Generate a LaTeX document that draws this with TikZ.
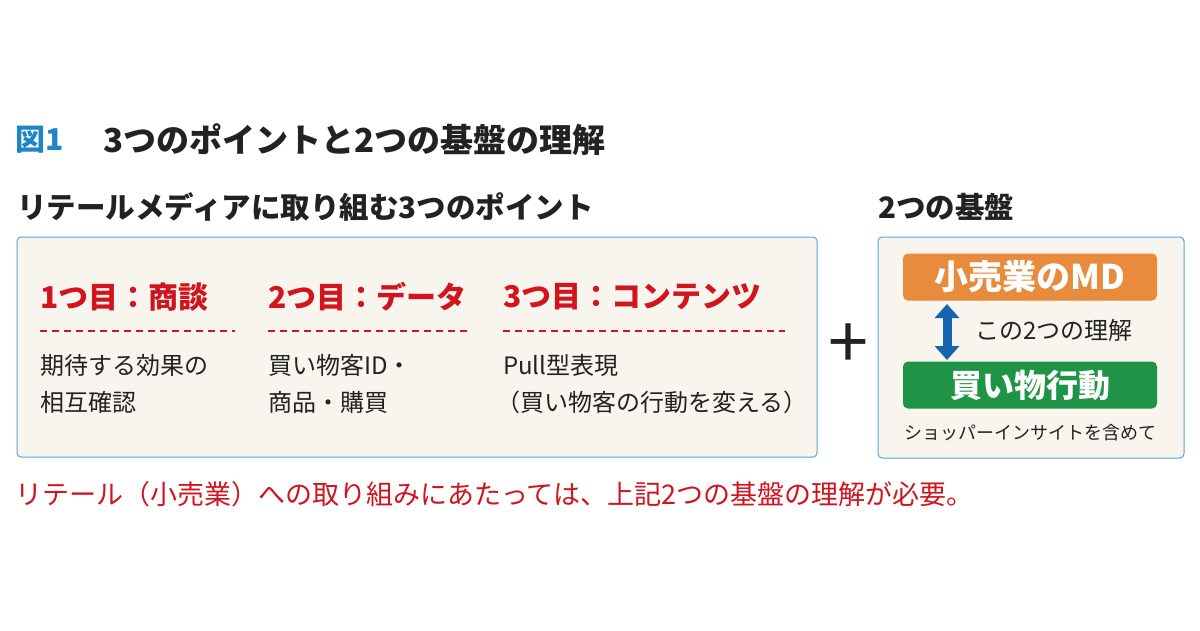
\documentclass[tikz,border=0pt]{standalone}
\usepackage{fontspec}
\setmainfont{Noto Sans CJK JP}
\usetikzlibrary{arrows.meta}
\definecolor{tblue}{HTML}{1E86C6}
\definecolor{tred}{HTML}{D2141E}
\definecolor{boxfill}{HTML}{F8F5EE}
\definecolor{boxline}{HTML}{5BA3D6}
\definecolor{orng}{HTML}{E88B3C}
\definecolor{grn}{HTML}{1F9447}
\definecolor{arr}{HTML}{1565B0}
\definecolor{txt}{HTML}{222222}
\begin{document}
\begin{tikzpicture}[x=1pt,y=-1pt,
  lbl/.style={anchor=west,inner sep=0pt,text=txt},
  head/.style={lbl,text=tred,font=\fontsize{30}{30}\selectfont\bfseries},
  body/.style={lbl,font=\fontsize{24}{24}\selectfont},
  panel/.style={draw=boxline,line width=1pt,fill=boxfill,rounded corners=4pt},
  pill/.style={rounded corners=5pt,minimum width=254pt,minimum height=47pt,text=white,inner sep=0pt},
  dsh/.style={tred,line width=2pt,dash pattern=on 7pt off 5pt}]
\useasboundingbox (0,0) rectangle (1200,630);
\fill[white] (0,0) rectangle (1200,630);
\node[lbl,text=tblue,font=\fontsize{30}{30}\selectfont\bfseries] (fig) at (15,140) {図1};
\node[lbl,font=\fontsize{33}{33}\selectfont\bfseries] (title) at (103,140) {3つのポイントと2つの基盤の理解};
\node[lbl,font=\fontsize{29.5}{29.5}\selectfont\bfseries] (sub1) at (17,207) {リテールメディアに取り組む3つのポイント};
\node[lbl,font=\fontsize{29.5}{29.5}\selectfont\bfseries] (sub2) at (878,207) {2つの基盤};
\draw[panel] (17,237) rectangle (817,457);
\draw[panel] (878,237) rectangle (1184,458);
\node[head] (h1) at (40,297) {1つ目：商談};
\node[head] (h2) at (268,297) {2つ目：データ};
\node[head] (h3) at (503,297) {3つ目：コンテンツ};
\coordinate (d1a) at (40,331); \coordinate (d1b) at (235,331);
\coordinate (d2a) at (268,331); \coordinate (d2b) at (468,331);
\coordinate (d3a) at (503,331); \coordinate (d3b) at (785,331);
\draw[dsh] (d1a) -- (d1b); \draw[dsh] (d2a) -- (d2b); \draw[dsh] (d3a) -- (d3b);
\node[body] (b1a) at (40,365) {期待する効果の};
\node[body] (b1b) at (40,402) {相互確認};
\node[body] (b2a) at (268,365) {買い物客ID・};
\node[body] (b2b) at (268,402) {商品・購買};
\node[body] (b3a) at (503,365) {Pull型表現};
\node[body] (b3b) at (496,402) {（買い物客の行動を変える）};
\node[text=txt,font=\fontsize{72}{72}\selectfont] (plus) at (848,346) {+};
\node[pill,fill=orng,font=\fontsize{34}{34}\selectfont\bfseries] (md) at (1030,277) {小売業のMD};
\node[pill,fill=grn,font=\fontsize{32}{32}\selectfont\bfseries] (kb) at (1030,385) {買い物行動};
\draw[arr,line width=9pt,{Triangle[width=24pt,length=14pt]}-{Triangle[width=24pt,length=14pt]}] (947,304) -- (947,360);
\node[lbl,font=\fontsize{24}{24}\selectfont] (rk) at (975,330) {この2つの理解};
\node[text=txt,inner sep=0pt,font=\fontsize{18}{18}\selectfont] (ins) at (1030,433) {ショッパーインサイトを含めて};
\node[lbl,text=tred,font=\fontsize{27}{27}\selectfont] (note) at (15,494) {リテール（小売業）への取り組みにあたっては、上記2つの基盤の理解が必要。};
\end{tikzpicture}
\end{document}
